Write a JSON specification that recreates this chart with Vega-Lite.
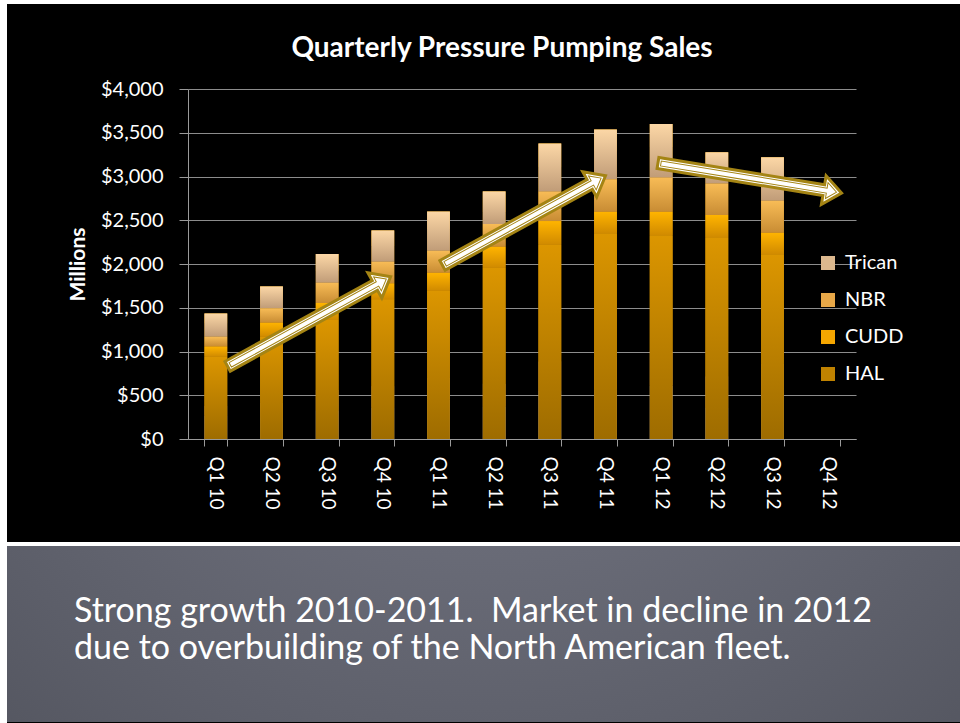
{
  "$schema": "https://vega.github.io/schema/vega-lite/v6.json",
  "background": "#000000",
  "padding": 0,
  "config": {"view": {"stroke": null}, "font": "Lato"},
  "datasets": {
    "sales": [
      {"quarter": "Q1 10", "series": "HAL", "sales": 941},
      {"quarter": "Q1 10", "series": "CUDD", "sales": 117},
      {"quarter": "Q1 10", "series": "NBR", "sales": 111},
      {"quarter": "Q1 10", "series": "Trican", "sales": 266},
      {"quarter": "Q2 10", "series": "HAL", "sales": 1170},
      {"quarter": "Q2 10", "series": "CUDD", "sales": 160},
      {"quarter": "Q2 10", "series": "NBR", "sales": 164},
      {"quarter": "Q2 10", "series": "Trican", "sales": 250},
      {"quarter": "Q3 10", "series": "HAL", "sales": 1360},
      {"quarter": "Q3 10", "series": "CUDD", "sales": 194},
      {"quarter": "Q3 10", "series": "NBR", "sales": 232},
      {"quarter": "Q3 10", "series": "Trican", "sales": 328},
      {"quarter": "Q4 10", "series": "HAL", "sales": 1596},
      {"quarter": "Q4 10", "series": "CUDD", "sales": 183},
      {"quarter": "Q4 10", "series": "NBR", "sales": 247},
      {"quarter": "Q4 10", "series": "Trican", "sales": 358},
      {"quarter": "Q1 11", "series": "HAL", "sales": 1695},
      {"quarter": "Q1 11", "series": "CUDD", "sales": 205},
      {"quarter": "Q1 11", "series": "NBR", "sales": 252},
      {"quarter": "Q1 11", "series": "Trican", "sales": 449},
      {"quarter": "Q2 11", "series": "HAL", "sales": 1958},
      {"quarter": "Q2 11", "series": "CUDD", "sales": 240},
      {"quarter": "Q2 11", "series": "NBR", "sales": 259},
      {"quarter": "Q2 11", "series": "Trican", "sales": 373},
      {"quarter": "Q3 11", "series": "HAL", "sales": 2221},
      {"quarter": "Q3 11", "series": "CUDD", "sales": 270},
      {"quarter": "Q3 11", "series": "NBR", "sales": 339},
      {"quarter": "Q3 11", "series": "Trican", "sales": 548},
      {"quarter": "Q4 11", "series": "HAL", "sales": 2350},
      {"quarter": "Q4 11", "series": "CUDD", "sales": 247},
      {"quarter": "Q4 11", "series": "NBR", "sales": 371},
      {"quarter": "Q4 11", "series": "Trican", "sales": 570},
      {"quarter": "Q1 12", "series": "HAL", "sales": 2327},
      {"quarter": "Q1 12", "series": "CUDD", "sales": 270},
      {"quarter": "Q1 12", "series": "NBR", "sales": 393},
      {"quarter": "Q1 12", "series": "Trican", "sales": 610},
      {"quarter": "Q2 12", "series": "HAL", "sales": 2304},
      {"quarter": "Q2 12", "series": "CUDD", "sales": 255},
      {"quarter": "Q2 12", "series": "NBR", "sales": 362},
      {"quarter": "Q2 12", "series": "Trican", "sales": 355},
      {"quarter": "Q3 12", "series": "HAL", "sales": 2110},
      {"quarter": "Q3 12", "series": "CUDD", "sales": 248},
      {"quarter": "Q3 12", "series": "NBR", "sales": 365},
      {"quarter": "Q3 12", "series": "Trican", "sales": 496}
    ],
    "arrows": [
      {"trend": "growth 2010", "quarterPos": 3.64, "value": 1855},
      {"trend": "growth 2011", "quarterPos": 7.5, "value": 3009},
      {"trend": "decline 2012", "quarterPos": 11.74, "value": 2811}
    ]
  },
  "spacing": 0,
  "hconcat": [
    {
      "width": 7,
      "height": 723,
      "data": {"values": [{"panel": "left border"}]},
      "mark": {"type": "rect", "color": "#ffffff"},
      "encoding": {}
    },
    {
      "spacing": 31,
      "vconcat": [
        {
          "width": 953,
          "height": 4,
          "data": {"values": [{"panel": "top border"}]},
          "mark": {"type": "rect", "color": "#ffffff"},
          "encoding": {}
        },
        {
          "spacing": 32,
          "vconcat": [
            {
              "spacing": 0,
              "hconcat": [
                {
                  "width": 60,
                  "height": 1,
                  "data": {"values": [{"panel": "left margin"}]},
                  "mark": {"type": "rect", "color": "#000000"},
                  "encoding": {}
                },
                {
                  "width": 668,
                  "height": 350,
                  "title": {
                    "text": "Quarterly Pressure Pumping Sales",
                    "font": "Lato",
                    "fontSize": 28,
                    "fontWeight": "bold",
                    "color": "#ffffff",
                    "anchor": "middle",
                    "frame": "group",
                    "dx": -20,
                    "offset": 16
                  },
                  "layer": [
                    {
                      "data": {"name": "sales"},
                      "mark": {"type": "bar"},
                      "encoding": {
                        "x": {
                          "field": "quarter",
                          "type": "nominal",
                          "sort": null,
                          "scale": {
                            "domain": ["Q1 10", "Q2 10", "Q3 10", "Q4 10", "Q1 11", "Q2 11", "Q3 11", "Q4 11", "Q1 12", "Q2 12", "Q3 12", "Q4 12"],
                            "paddingInner": 0.59,
                            "paddingOuter": 0.295
                          },
                          "axis": {
                            "title": null,
                            "labelAngle": 90,
                            "labelAlign": "left",
                            "labelBaseline": "middle",
                            "labelFont": "Lato",
                            "labelFontSize": 19,
                            "labelColor": "#ffffff",
                            "labelPadding": 10,
                            "tickBand": "extent",
                            "tickSize": 7,
                            "tickColor": "#9a9a9a",
                            "domainColor": "#9a9a9a",
                            "grid": false
                          }
                        },
                        "y": {
                          "field": "sales",
                          "type": "quantitative",
                          "stack": "zero",
                          "scale": {"domain": [0, 4000], "nice": false},
                          "axis": {
                            "title": "Millions",
                            "titleFont": "Lato",
                            "titleFontSize": 21,
                            "titleFontWeight": "bold",
                            "titleColor": "#ffffff",
                            "titlePadding": 12,
                            "values": [0, 500, 1000, 1500, 2000, 2500, 3000, 3500, 4000],
                            "format": "$,.0f",
                            "labelFont": "Lato",
                            "labelFontSize": 20,
                            "labelColor": "#ffffff",
                            "labelPadding": 16,
                            "tickSize": 9,
                            "tickColor": "#9a9a9a",
                            "domainColor": "#9a9a9a",
                            "grid": true,
                            "gridColor": "#8c8c8c",
                            "gridWidth": 1
                          }
                        },
                        "color": {
                          "field": "series",
                          "type": "nominal",
                          "sort": ["Trican", "NBR", "CUDD", "HAL"],
                          "scale": {
                            "domain": ["Trican", "NBR", "CUDD", "HAL"],
                            "range": ["#dcb88e", "#e8a848", "#f5a600", "#bf8200"]
                          },
                          "legend": {
                            "title": null,
                            "orient": "none",
                            "legendX": 818,
                            "legendY": 253,
                            "symbolType": "square",
                            "symbolSize": 196,
                            "symbolStrokeWidth": 0,
                            "labelFont": "Lato",
                            "labelFontSize": 20,
                            "labelColor": "#ffffff",
                            "labelOffset": 7,
                            "rowPadding": 17,
                            "padding": 0
                          }
                        }
                      }
                    },
                    {
                      "data": {"name": "sales"},
                      "mark": {"type": "bar"},
                      "encoding": {
                        "x": {
                          "field": "quarter",
                          "type": "nominal",
                          "sort": null,
                          "scale": {
                            "domain": ["Q1 10", "Q2 10", "Q3 10", "Q4 10", "Q1 11", "Q2 11", "Q3 11", "Q4 11", "Q1 12", "Q2 12", "Q3 12", "Q4 12"],
                            "paddingInner": 0.59,
                            "paddingOuter": 0.295
                          },
                          "axis": null
                        },
                        "y": {
                          "field": "sales",
                          "type": "quantitative",
                          "stack": "zero",
                          "scale": {"domain": [0, 4000], "nice": false}
                        },
                        "fill": {
                          "condition": [
                            {"test": "datum.series === 'HAL'", "value": {"gradient": "linear", "x1": 0, "y1": 0, "x2": 0, "y2": 1, "stops": [{"offset": 0, "color": "#dc9600"}, {"offset": 1, "color": "#9e6c00"}]}},
                            {"test": "datum.series === 'CUDD'", "value": {"gradient": "linear", "x1": 0, "y1": 0, "x2": 0, "y2": 1, "stops": [{"offset": 0, "color": "#ffb400"}, {"offset": 1, "color": "#d08a00"}]}},
                            {"test": "datum.series === 'NBR'", "value": {"gradient": "linear", "x1": 0, "y1": 0, "x2": 0, "y2": 1, "stops": [{"offset": 0, "color": "#f8bc56"}, {"offset": 1, "color": "#c88c34"}]}}
                          ],
                          "value": {"gradient": "linear", "x1": 0, "y1": 0, "x2": 0, "y2": 1, "stops": [{"offset": 0, "color": "#fcd7a6"}, {"offset": 1, "color": "#c09c78"}]}
                        }
                      }
                    },
                    {
                      "data": {"name": "arrows"},
                      "mark": {
                        "type": "point",
                        "shape": "M0,0L-1.8,-1.45L-1.8,-0.55L-18.6,-0.55L-18.6,0.55L-1.8,0.55L-1.8,1.45Z",
                        "size": 400,
                        "filled": true,
                        "fill": "#ffffff",
                        "stroke": "#a48414",
                        "strokeWidth": 3,
                        "strokeJoin": "miter",
                        "opacity": 1
                      },
                      "encoding": {
                        "x": {"field": "quarterPos", "type": "quantitative", "scale": {"domain": [0, 12], "nice": false, "zero": false}, "axis": null},
                        "y": {"field": "value", "type": "quantitative", "scale": {"domain": [0, 4000], "nice": false}},
                        "angle": {"condition": {"test": "indexof(datum.trend, 'decline') >= 0", "value": 9.3}, "value": -28.8}
                      }
                    },
                    {
                      "data": {"name": "arrows"},
                      "mark": {
                        "type": "point",
                        "shape": "M-0.5,0L-1.5,-0.8L-1.5,-0.25L-18.3,-0.25L-18.3,0.25L-1.5,0.25L-1.5,0.8Z",
                        "size": 400,
                        "filled": false,
                        "stroke": "#a48414",
                        "strokeWidth": 1,
                        "opacity": 1
                      },
                      "encoding": {
                        "x": {"field": "quarterPos", "type": "quantitative", "scale": {"domain": [0, 12], "nice": false, "zero": false}, "axis": null},
                        "y": {"field": "value", "type": "quantitative", "scale": {"domain": [0, 4000], "nice": false}},
                        "angle": {"condition": {"test": "indexof(datum.trend, 'decline') >= 0", "value": 9.3}, "value": -28.8}
                      }
                    }
                  ],
                  "resolve": {"scale": {"x": "independent"}}
                }
              ]
            },
            {
              "spacing": 0,
              "vconcat": [
                {
                  "width": 953,
                  "height": 4,
                  "data": {"values": [{"panel": "divider"}]},
                  "mark": {"type": "rect", "color": "#ffffff"},
                  "encoding": {}
                },
                {
                  "width": 953,
                  "height": 176,
                  "layer": [
                    {
                      "data": {"values": [{"panel": "caption background"}]},
                      "mark": {
                        "type": "rect",
                        "color": {
                          "gradient": "radial",
                          "x1": 0.5, "y1": 0, "r1": 0,
                          "x2": 0.5, "y2": 0, "r2": 1.1,
                          "stops": [
                            {"offset": 0, "color": "#80828e"},
                            {"offset": 0.35, "color": "#6a6c78"},
                            {"offset": 0.75, "color": "#53555f"},
                            {"offset": 1, "color": "#3c3e48"}
                          ]
                        }
                      },
                      "encoding": {}
                    },
                    {
                      "data": {
                        "values": [
                          {"line": 1, "caption": "Strong growth 2010-2011.\u00a0 Market in decline in 2012"},
                          {"line": 2, "caption": "due to overbuilding of the North American fleet."}
                        ]
                      },
                      "mark": {"type": "text", "align": "left", "baseline": "alphabetic", "font": "Lato", "fontSize": 34, "color": "#ffffff"},
                      "encoding": {
                        "x": {"field": "line", "type": "ordinal", "scale": {"type": "point", "range": [67, 67]}, "axis": null},
                        "y": {"field": "line", "type": "ordinal", "scale": {"type": "point", "range": [76, 113], "padding": 0}, "axis": null},
                        "text": {"field": "caption"}
                      }
                    }
                  ],
                  "resolve": {"scale": {"x": "independent", "y": "independent"}}
                }
              ]
            }
          ]
        }
      ]
    }
  ]
}
